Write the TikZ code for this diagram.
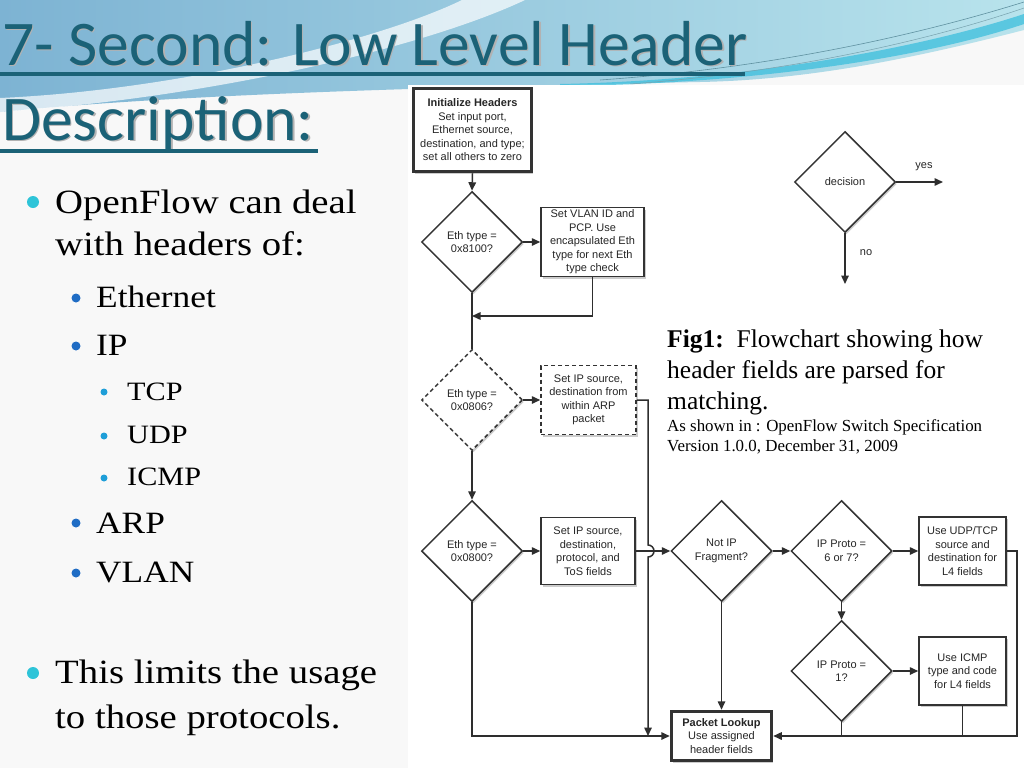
\documentclass[tikz,border=0pt]{standalone}
\usepackage{fontspec}
\setmainfont{Liberation Serif}
\newfontfamily\titlefont{Carlito}
\newfontfamily\bodyfont[FakeStretch=1.14]{Liberation Serif}
\newfontfamily\flowfont{Liberation Sans}
\usetikzlibrary{shapes.geometric,arrows.meta,shadows}
\definecolor{bg}{HTML}{F8F8F8}
\definecolor{titlecol}{HTML}{1B6277}
\definecolor{waveA}{HTML}{7DB3D3}
\definecolor{waveB}{HTML}{B8E3EC}
\definecolor{waveC}{HTML}{3CBFDD}
\definecolor{bcyan}{HTML}{2EC4D8}
\definecolor{bblue}{HTML}{1F6CC4}
\definecolor{bsky}{HTML}{1E9ED8}
\begin{document}
\begin{tikzpicture}[x=1pt,y=-1pt,
  ln/.style={draw=black!82, line width=1.5pt},
  arr/.style={ln, -{Triangle[length=8.5pt,width=7.5pt]}},
  ff/.style={font=\flowfont\fontsize{11}{13.5}\selectfont, text=black!85, align=center},
  shad/.style={drop shadow={shadow xshift=1.5pt, shadow yshift=-2pt, opacity=0.2, fill=black}},
  fbox/.style={ff, rectangle, draw=black!80, line width=1.5pt, fill=white, inner sep=0pt, shad},
  heavy box/.style={fbox, line width=3.5pt},
  dec/.style={ff, diamond, draw=black!80, line width=1.5pt, fill=white, inner sep=0pt, minimum width=101pt, minimum height=101pt, shad},
  dsh/.style={dash pattern=on 4pt off 3pt},
  lvA/.style={anchor=base west, font=\bodyfont\fontsize{34}{40}\selectfont, inner sep=0pt},
  lvB/.style={anchor=base west, font=\bodyfont\fontsize{31}{36}\selectfont, inner sep=0pt},
  lvC/.style={anchor=base west, font=\bodyfont\fontsize{26.5}{30}\selectfont, inner sep=0pt},
  ttl/.style={anchor=base west, font=\titlefont\fontsize{63.6}{70}\selectfont, inner sep=0pt}]
\useasboundingbox (0,0) rectangle (1024,768);
% background
\fill[bg] (0,0) rectangle (1024,768);
\shade[left color=waveA, right color=waveB] (0,0) -- (1024,0) -- (1024,30)
  .. controls (900,62) and (800,80) .. (700,82) .. controls (500,86) and (200,92) .. (0,112) -- cycle;
\fill[white, opacity=0.7] (0,98) .. controls (180,90) and (380,40) .. (462,0) -- (525,0)
  .. controls (430,45) and (220,97) .. (0,112) -- cycle;
\fill[waveC, opacity=0.75] (560,84) .. controls (760,80) and (930,45) .. (1024,14) -- (1024,24)
  .. controls (930,56) and (760,84) .. (560,86) -- cycle;
\draw[titlecol!70, line width=0.6pt] (600,80) .. controls (800,66) and (950,25) .. (1024,2);
\draw[titlecol!60, line width=0.5pt] (630,84) .. controls (820,70) and (960,30) .. (1024,8);
\fill[white] (408,85) rectangle (1024,768);
% title
\node[ttl, text=black!30] (t1s) at (3.5,66.5) {7- Second: Low Level Header};
\node[ttl, text=titlecol] (t1) at (2,65) {7- Second: Low Level Header};
\node[ttl, text=black!30] (t2s) at (3.5,141.5) {Description:};
\node[ttl, text=titlecol] (t2) at (2,140) {Description:};
\draw[titlecol, line width=4pt] (0,74) -- (745,74);
\draw[titlecol, line width=4pt] (0,151) -- (318,151);
% bullets
\fill[bcyan] (33,202) circle (6);
\node[lvA] (b1) at (55,213) {OpenFlow can deal};
\node[lvA] (b1b) at (55,255) {with headers of:};
\fill[bblue] (76,298) circle (4.5);
\node[lvB] (b2) at (96,307) {Ethernet};
\fill[bblue] (76,346) circle (4.5);
\node[lvB] (b3) at (96,355) {IP};
\fill[bsky] (104,392) circle (3.5);
\node[lvC] (b4) at (127,400) {TCP};
\fill[bsky] (104,436) circle (3.5);
\node[lvC] (b5) at (127,443) {UDP};
\fill[bsky] (104,478) circle (3.5);
\node[lvC] (b6) at (127,485) {ICMP};
\fill[bblue] (76,523) circle (4.5);
\node[lvB] (b7) at (96,533) {ARP};
\fill[bblue] (76,573) circle (4.5);
\node[lvB] (b8) at (96,582) {VLAN};
\fill[bcyan] (33,673) circle (6);
\node[lvA] (b9) at (55,683) {This limits the usage};
\node[lvA] (b9b) at (55,728) {to those protocols.};
% caption
\node[anchor=base west, inner sep=0pt, font=\fontsize{25.5}{30}\selectfont] (c1) at (667,347) {\textbf{Fig1:}~~Flowchart showing how};
\node[anchor=base west, inner sep=0pt, font=\fontsize{25.5}{30}\selectfont] (c2) at (667,378) {header fields are parsed for};
\node[anchor=base west, inner sep=0pt, font=\fontsize{25.5}{30}\selectfont] (c3t) at (667,409) {matching.};
\node[anchor=base west, inner sep=0pt, font=\fontsize{16.9}{20}\selectfont] (c4) at (667,431) {As shown in : OpenFlow Switch Specification};
\node[anchor=base west, inner sep=0pt, font=\fontsize{16.9}{20}\selectfont] (c5) at (667,451) {Version 1.0.0, December 31, 2009};
% flowchart nodes
\node[heavy box, minimum width=118pt, minimum height=83pt] (init) at (472.5,130) {\textbf{Initialize Headers}\\Set input port,\\Ethernet source,\\destination, and type;\\set all others to zero};
\node[dec] (d1) at (472,242) {Eth type =\\0x8100?};
\node[fbox, minimum width=103pt, minimum height=69pt] (vlan) at (592.5,242) {Set VLAN ID and\\PCP. Use\\encapsulated Eth\\type for next Eth\\type check};
\node[dec, dsh] (d2) at (472,400) {Eth type =\\0x0806?};
\node[fbox, dsh, minimum width=95pt, minimum height=69pt] (arp) at (588.5,400) {Set IP source,\\destination from\\within ARP\\packet};
\node[dec] (d3) at (472,551) {Eth type =\\0x0800?};
\node[fbox, minimum width=94pt, minimum height=67pt] (ipbox) at (588,551) {Set IP source,\\destination,\\protocol, and\\ToS fields};
\node[dec] (notip) at (721.5,551) {Not IP\\Fragment?};
\node[dec] (p67) at (841.5,551) {IP Proto =\\6 or 7?};
\node[fbox, minimum width=87pt, minimum height=68pt] (udp) at (962.5,551) {Use UDP/TCP\\source and\\destination for\\L4 fields};
\node[dec] (p1) at (841.5,671) {IP Proto =\\1?};
\node[fbox, minimum width=87pt, minimum height=68pt] (icmp) at (962.5,671) {Use ICMP\\type and code\\for L4 fields};
\node[heavy box, minimum width=100pt, minimum height=49pt] (lookup) at (721.5,736) {\textbf{Packet Lookup}\\Use assigned\\header fields};
% legend
\node[dec] (dec0) at (845,182) {decision};
\coordinate (lyes) at (943,182);
\coordinate (lno) at (845,284);
\node[ff] (tyes) at (924,167) {yes};
\node[ff] (tno) at (866,253) {no};
% helper coordinates
\coordinate (m1) at (472,316);
\coordinate (hop) at (648,545);
\coordinate (m2) at (648,736);
\coordinate (c3) at (1017,736);
% connectors
\draw[arr] (init.south) -- (d1.north);
\draw[arr] (d1.east) -- (vlan.west);
\draw[ln] (d1.south) -- (d2.north);
\draw[arr] (vlan.south) |- (m1);
\draw[arr] (d2.east) -- (arp.west);
\draw[arr] (d2.south) -- (d3.north);
\draw[arr] (arp.east) -| (hop) arc[start angle=-90, end angle=90, radius=6] -- (m2);
\draw[arr] (d3.east) -- (ipbox.west);
\draw[arr] (ipbox.east) -- (notip.west);
\draw[arr] (notip.east) -- (p67.west);
\draw[arr] (p67.east) -- (udp.west);
\draw[arr] (udp.east) -| (c3) -- (lookup.east);
\draw[arr] (p67.south) -- (p1.north);
\draw[arr] (p1.east) -- (icmp.west);
\draw[ln] (icmp.south) -- (icmp.south |- c3);
\draw[ln] (p1.south) -- (p1.south |- c3);
\draw[arr] (notip.south) -- (lookup.north);
\draw[arr] (d3.south) |- (lookup.west);
\draw[arr] (dec0.east) -- (lyes);
\draw[arr] (dec0.south) -- (lno);
\end{tikzpicture}
\end{document}
